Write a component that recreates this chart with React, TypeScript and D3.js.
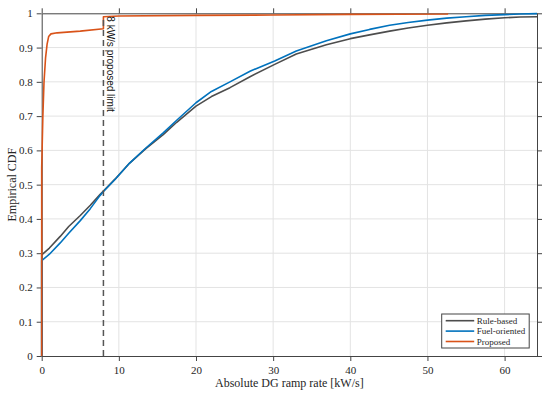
import React, { useEffect, useRef } from "react";
import * as d3 from "d3";

// values
const ruleX = [0, 0, 1, 2.4, 3.5, 5, 6.3, 7.55, 8, 9.5, 11.4, 13.5, 15.75, 17.5, 20, 22, 24.4, 27, 30.2, 33, 36.9, 40, 42.5, 45.1, 47.5, 50, 52.5, 55, 57.5, 60, 62, 64.2];
const ruleY = [0, 0.295, 0.315, 0.349, 0.378, 0.41, 0.44, 0.471, 0.481, 0.516, 0.563, 0.605, 0.646, 0.682, 0.729, 0.757, 0.783, 0.815, 0.851, 0.881, 0.908, 0.926, 0.937, 0.948, 0.957, 0.965, 0.972, 0.978, 0.983, 0.987, 0.989, 0.99];

const fuelX = [0, 0, 1, 2.4, 3.5, 5, 6.3, 7.55, 8, 9.5, 11.4, 13.5, 15.75, 17.5, 20, 22, 24.4, 27, 30.2, 33, 36.9, 40, 42.5, 45.1, 47.5, 50, 52.5, 55, 57.5, 60, 62, 64.2];
const fuelY = [0, 0.278, 0.297, 0.33, 0.358, 0.395, 0.43, 0.468, 0.48, 0.515, 0.563, 0.607, 0.651, 0.688, 0.739, 0.772, 0.8, 0.831, 0.861, 0.89, 0.92, 0.94, 0.953, 0.965, 0.973, 0.98, 0.986, 0.99, 0.994, 0.996, 0.998, 0.999];

const propX = [0, 0, 0.05, 0.15, 0.3, 0.5, 0.7, 0.9, 1.2, 2, 5, 8, 8, 10, 20, 30, 40, 52.6, 52.6];
const propY = [0, 0.55, 0.6, 0.7, 0.8, 0.87, 0.91, 0.932, 0.94, 0.943, 0.948, 0.955, 0.99, 0.992, 0.994, 0.995, 0.997, 0.998, 1];

const seriesNames = ["Rule-based", "Fuel-oriented", "Proposed"];
const seriesColors = ["#4d4d4d", "#0072BD", "#D95319"];

const xTicks = [0, 10, 20, 30, 40, 50, 60];
const yTicks = [0, 0.1, 0.2, 0.3, 0.4, 0.5, 0.6, 0.7, 0.8, 0.9, 1];
const xDomain = [0, 64.2];
const limitValue = 8;
const limitLabel = "8 kW/s proposed limit";

const width = 550;
const height = 400;
const margins = { top: 13.3, right: 13, bottom: 44, left: 41.7 };

const App: React.FC = () => {
    const svgRef = useRef<SVGSVGElement | null>(null);

    useEffect(() => {
        if (!svgRef.current) return;
        const svg = d3.select(svgRef.current);
        svg.selectAll("*").remove();

        const x = d3
            .scaleLinear()
            .domain(xDomain)
            .range([margins.left, width - margins.right]);
        const y = d3
            .scaleLinear()
            .domain([0, 1])
            .range([height - margins.bottom, margins.top]);

        const serif = '"Liberation Serif", "Times New Roman", Times, "DejaVu Serif", serif';
        const axisColor = "#444";

        // grid
        svg.append("g")
            .selectAll("line")
            .data(xTicks.slice(1))
            .join("line")
            .attr("x1", (d) => x(d))
            .attr("x2", (d) => x(d))
            .attr("y1", y(0))
            .attr("y2", y(1))
            .attr("stroke", "#e3e3e3")
            .attr("stroke-width", 1);
        svg.append("g")
            .selectAll("line")
            .data(yTicks.slice(1, -1))
            .join("line")
            .attr("x1", x(xDomain[0]))
            .attr("x2", x(xDomain[1]))
            .attr("y1", (d) => y(d))
            .attr("y2", (d) => y(d))
            .attr("stroke", "#e3e3e3")
            .attr("stroke-width", 1);

        const styleAxis = (g: d3.Selection<SVGGElement, unknown, null, undefined>) => {
            g.attr("font-family", serif).attr("font-size", 11);
            g.select(".domain").attr("stroke", axisColor).attr("stroke-width", 1);
            g.selectAll(".tick line").attr("stroke", axisColor);
            g.selectAll(".tick text").attr("fill", "#262626");
        };

        // bottom axis
        svg.append("g")
            .attr("transform", `translate(0,${y(0)})`)
            .call(d3.axisBottom(x).tickValues(xTicks).tickSize(5).tickSizeOuter(0).tickPadding(5).tickFormat(d3.format("d")))
            .call(styleAxis);
        // top axis
        svg.append("g")
            .attr("transform", `translate(0,${y(1)})`)
            .call(d3.axisTop(x).tickValues(xTicks).tickSize(5).tickSizeOuter(0).tickFormat(() => ""))
            .call(styleAxis);
        // left axis
        svg.append("g")
            .attr("transform", `translate(${x(xDomain[0])},0)`)
            .call(d3.axisLeft(y).tickValues(yTicks).tickSize(5).tickSizeOuter(0).tickPadding(4).tickFormat((d) => String(+(+d).toFixed(1))))
            .call(styleAxis);
        // right axis
        svg.append("g")
            .attr("transform", `translate(${x(xDomain[1])},0)`)
            .call(d3.axisRight(y).tickValues(yTicks).tickSize(5).tickSizeOuter(0).tickFormat(() => ""))
            .call(styleAxis);

        // axis labels
        svg.append("text")
            .attr("x", (x(xDomain[0]) + x(xDomain[1])) / 2)
            .attr("y", 387)
            .attr("text-anchor", "middle")
            .style("font-family", serif)
            .attr("font-size", 12)
            .attr("fill", "#262626")
            .text("Absolute DG ramp rate [kW/s]");
        svg.append("text")
            .attr("transform", `translate(16,${(y(0) + y(1)) / 2}) rotate(-90)`)
            .attr("text-anchor", "middle")
            .style("font-family", serif)
            .attr("font-size", 12)
            .attr("fill", "#262626")
            .text("Empirical CDF");

        // series
        const line = d3
            .line<[number, number]>()
            .x((d) => x(d[0]))
            .y((d) => y(d[1]));
        const series: [number, number][][] = [
            ruleX.map((v, i) => [v, ruleY[i]]),
            fuelX.map((v, i) => [v, fuelY[i]]),
            propX.map((v, i) => [v, propY[i]]),
        ];
        series.forEach((pts, i) => {
            svg.append("path")
                .attr("d", line(pts))
                .attr("fill", "none")
                .attr("stroke", seriesColors[i])
                .attr("stroke-width", 1.6)
                .attr("stroke-linejoin", "round");
        });

        // proposed limit
        svg.append("line")
            .attr("x1", x(limitValue))
            .attr("x2", x(limitValue))
            .attr("y1", y(0))
            .attr("y2", y(0.99))
            .attr("stroke", "#555")
            .attr("stroke-width", 1.5)
            .attr("stroke-dasharray", "6,4");
        svg.append("text")
            .attr("transform", `translate(${x(limitValue) + 4},${y(1) + 3}) rotate(90)`)
            .attr("text-anchor", "start")
            .style("font-family", '"Liberation Sans", Arial, sans-serif')
            .attr("font-size", 10)
            .attr("fill", "#111")
            .text(limitLabel);

        // legend
        const lg = svg.append("g").attr("transform", "translate(441.7,314)");
        lg.append("rect")
            .attr("width", 87.5)
            .attr("height", 34)
            .attr("fill", "white")
            .attr("stroke", axisColor)
            .attr("stroke-width", 1);
        seriesNames.forEach((name, i) => {
            const yy = 6.7 + i * 10.4;
            lg.append("line")
                .attr("x1", 4)
                .attr("x2", 32.5)
                .attr("y1", yy)
                .attr("y2", yy)
                .attr("stroke", seriesColors[i])
                .attr("stroke-width", 1.6);
            lg.append("text")
                .attr("x", 35)
                .attr("y", yy + 3)
                .style("font-family", serif)
                .attr("font-size", 9)
                .attr("fill", "#262626")
                .text(name);
        });
    }, []);

    return (
        <div style={{ position: "absolute", left: 0, top: 0, background: "white" }}>
            <svg ref={svgRef} width={width} height={height} viewBox={`0 0 ${width} ${height}`}></svg>
        </div>
    );
};

export default App;
